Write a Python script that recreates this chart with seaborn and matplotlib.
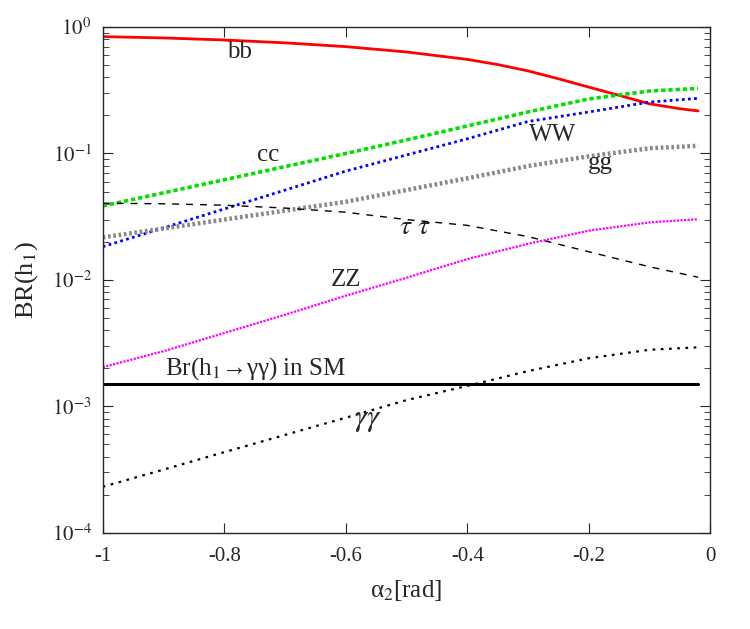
import numpy as np
import pandas as pd
import matplotlib
matplotlib.use("Agg")
import matplotlib.pyplot as plt
import matplotlib.ticker as mticker
import seaborn as sns

# ---- data ----
alpha2 = [-1.0, -0.9, -0.8, -0.7, -0.6, -0.5, -0.4, -0.3, -0.2, -0.1, -0.02]
alpha2_bb = [-1.0, -0.9, -0.8, -0.7, -0.6, -0.5, -0.4, -0.35, -0.3, -0.25, -0.2,
             -0.15, -0.1, -0.05, -0.02]
br_bb = [0.84, 0.82, 0.79, 0.75, 0.70, 0.635, 0.555, 0.505, 0.45, 0.39, 0.335,
         0.288, 0.247, 0.226, 0.217]
br_cc = [0.0385, 0.0488, 0.062, 0.0787, 0.100, 0.128, 0.165, 0.213, 0.27, 0.312, 0.327]
br_ww = [0.0183, 0.0258, 0.0364, 0.0513, 0.0725, 0.0973, 0.1306, 0.179, 0.213, 0.255, 0.273]
br_gg = [0.0217, 0.0255, 0.030, 0.0353, 0.0415, 0.0514, 0.0636, 0.0795, 0.095, 0.110, 0.115]
br_tautau = [0.0404, 0.040, 0.039, 0.037, 0.0343, 0.030, 0.027, 0.022, 0.0167, 0.0127, 0.0105]
br_zz = [0.00204, 0.00273, 0.0038, 0.0053, 0.0075, 0.0104, 0.0146, 0.0193, 0.0245, 0.0285, 0.0302]
br_aa = [0.000231, 0.000316, 0.000434, 0.000594, 0.000813, 0.00112, 0.00145, 0.0019, 0.0024, 0.0028, 0.00293]
sm_aa = 1.5e-3

x_ticks = [-1, -0.8, -0.6, -0.4, -0.2, 0]
x_ticklabels = ["-1", "-0.8", "-0.6", "-0.4", "-0.2", "0"]
y_ticks = [1e-4, 1e-3, 1e-2, 1e-1, 1]
y_ticklabels = [r"$10^{-4}$", r"$10^{-3}$", r"$10^{-2}$", r"$10^{-1}$", r"$10^{0}$"]

sns.set_style("ticks")
plt.rcParams["font.family"] = ["Liberation Serif", "DejaVu Serif"]
plt.rcParams["mathtext.fontset"] = "stix"
plt.rcParams["axes.unicode_minus"] = False

fig = plt.figure(figsize=(7.5, 6.29), dpi=100)
ax = fig.add_axes([0.137, 0.153, 0.81, 0.804])

series = [
    (alpha2_bb, br_bb, "#ff0000", "-", 2.0),
    (alpha2, br_cc, "#00e000", (0, (1.2, 0.8)), 2.6),
    (alpha2, br_ww, "#0000ff", (0, (1.0, 1.2)), 2.0),
    (alpha2, br_gg, "#888888", (0, (0.6, 0.6)), 3.2),
    (alpha2, br_tautau, "#000000", (0, (5, 5)), 1.0),
    (alpha2, br_zz, "#ff00ff", (0, (1, 0.6)), 1.6),
    (alpha2, br_aa, "#000000", (0, (1.2, 2.5)), 1.6),
]
for xs, vals, col, ls, lw in series:
    df = pd.DataFrame({"alpha": xs, "br": vals})
    sns.lineplot(data=df, x="alpha", y="br", color=col, linestyle=ls,
                 linewidth=lw, ax=ax, legend=False)

sns.lineplot(x=[alpha2[0], alpha2[-1]], y=[sm_aa, sm_aa], color="black",
             linewidth=2.2, ax=ax, legend=False)

ax.set_yscale("log")
ax.set_xlim(-1, 0)
ax.set_ylim(1e-4, 1)
ax.set_xticks(x_ticks)
ax.set_xticklabels(x_ticklabels)
ax.set_yticks(y_ticks)
ax.set_yticklabels(y_ticklabels)
ax.yaxis.set_minor_locator(mticker.LogLocator(base=10, subs=np.arange(2, 10)))
ax.yaxis.set_minor_formatter(mticker.NullFormatter())
ax.xaxis.set_minor_locator(mticker.NullLocator())
ax.tick_params(which="both", direction="in", top=True, right=True, labelsize=15)
ax.tick_params(which="major", length=7, width=0.8)
ax.tick_params(which="minor", length=4, width=0.6)
ax.tick_params(axis="x", pad=10)
ax.tick_params(axis="y", pad=8)
for s in ax.spines.values():
    s.set_linewidth(1.0)
    s.set_visible(True)

ax.set_xlabel("α$_2$[rad]", fontsize=18, labelpad=9)
ax.set_ylabel("BR(h$_1$)", fontsize=19, labelpad=8)

fs = 18
ax.text(-0.774, 0.63, "bb", fontsize=fs, ha="center", va="center")
ax.text(-0.728, 0.097, "cc", fontsize=fs, ha="center", va="center")
ax.text(-0.259, 0.14, "WW", fontsize=fs, ha="center", va="center")
ax.text(-0.181, 0.084, "gg", fontsize=fs, ha="center", va="center")
ax.text(-0.486, 0.0258, r"$\tau\ \tau$", fontsize=20, ha="center", va="center")
ax.text(-0.6, 0.0100, "ZZ", fontsize=fs, ha="center", va="center")
ax.text(-0.748, 0.00198, "Br(h$_1$→γγ) in SM", fontsize=fs, ha="center", va="center")
ax.text(-0.563, 0.00078, r"$\gamma\gamma$", fontsize=22, ha="center", va="center")

fig.savefig("out.png", dpi=100)
